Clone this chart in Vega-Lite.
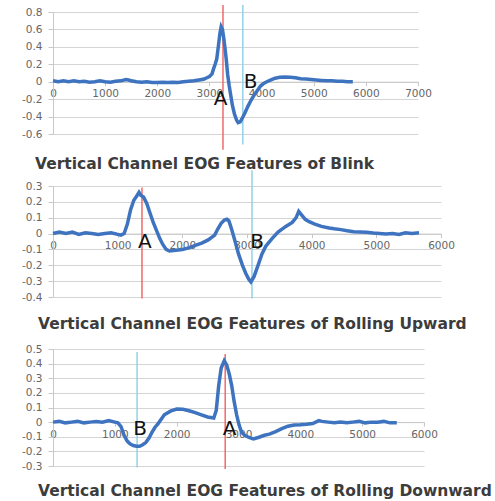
{
  "$schema": "https://vega.github.io/schema/vega-lite/v6.json",
  "background": "white",
  "padding": {"left": 21, "top": 4, "right": 0, "bottom": 0},
  "bounds": "flush",
  "spacing": 52,
  "config": {
    "view": {"stroke": null},
    "axis": {
      "labelFont": "DejaVu Sans", "labelFontSize": 10.5, "labelColor": "#666666",
      "gridColor": "#d4d4d4", "domainColor": "#c8c8c8", "tickColor": "#c8c8c8",
      "title": null, "labelFlush": false, "labelOverlap": false, "tickCount": 30
    },
    "text": {"font": "DejaVu Sans"}
  },
  "datasets": {
    "blink": [
      {"t":0,"v":0.01},{"t":100,"v":0.0},{"t":200,"v":0.01},{"t":300,"v":0.0},{"t":400,"v":0.01},{"t":500,"v":0.0},
      {"t":600,"v":0.005},{"t":700,"v":-0.005},{"t":800,"v":0.0},{"t":900,"v":0.01},{"t":1000,"v":0.0},{"t":1100,"v":-0.005},
      {"t":1200,"v":0.005},{"t":1300,"v":0.01},{"t":1400,"v":0.025},{"t":1450,"v":0.02},{"t":1500,"v":0.01},{"t":1600,"v":0.0},
      {"t":1700,"v":-0.005},{"t":1800,"v":0.0},{"t":1900,"v":-0.01},{"t":2000,"v":-0.01},{"t":2100,"v":-0.005},{"t":2200,"v":-0.01},
      {"t":2300,"v":-0.005},{"t":2400,"v":-0.01},{"t":2500,"v":0.0},{"t":2600,"v":0.005},{"t":2700,"v":0.01},{"t":2800,"v":0.02},
      {"t":2900,"v":0.03},{"t":2950,"v":0.045},{"t":3000,"v":0.06},{"t":3050,"v":0.09},{"t":3080,"v":0.15},{"t":3110,"v":0.2},
      {"t":3140,"v":0.26},{"t":3170,"v":0.4},{"t":3200,"v":0.55},{"t":3225,"v":0.63},{"t":3250,"v":0.6},{"t":3275,"v":0.5},
      {"t":3300,"v":0.38},{"t":3325,"v":0.24},{"t":3350,"v":0.08},{"t":3380,"v":-0.05},{"t":3410,"v":-0.16},{"t":3440,"v":-0.27},
      {"t":3480,"v":-0.37},{"t":3520,"v":-0.44},{"t":3550,"v":-0.47},{"t":3590,"v":-0.46},{"t":3620,"v":-0.43},{"t":3680,"v":-0.36},
      {"t":3740,"v":-0.28},{"t":3800,"v":-0.21},{"t":3860,"v":-0.15},{"t":3920,"v":-0.1},{"t":3980,"v":-0.05},{"t":4040,"v":-0.02},
      {"t":4100,"v":0.0},{"t":4180,"v":0.02},{"t":4260,"v":0.04},{"t":4350,"v":0.05},{"t":4450,"v":0.055},{"t":4550,"v":0.05},
      {"t":4650,"v":0.045},{"t":4750,"v":0.035},{"t":4850,"v":0.03},{"t":4950,"v":0.025},{"t":5050,"v":0.02},{"t":5150,"v":0.015},
      {"t":5250,"v":0.01},{"t":5350,"v":0.01},{"t":5450,"v":0.005},{"t":5550,"v":0.005},{"t":5650,"v":0.0},{"t":5750,"v":0.0}
    ],
    "up": [
      {"t":0,"v":0.0},{"t":100,"v":0.01},{"t":200,"v":0.0},{"t":300,"v":0.01},{"t":400,"v":-0.005},{"t":500,"v":0.005},
      {"t":600,"v":0.0},{"t":700,"v":-0.005},{"t":800,"v":0.0},{"t":900,"v":0.005},{"t":1000,"v":-0.005},{"t":1050,"v":-0.01},
      {"t":1100,"v":0.0},{"t":1150,"v":0.06},{"t":1200,"v":0.15},{"t":1250,"v":0.21},{"t":1300,"v":0.24},{"t":1330,"v":0.26},
      {"t":1360,"v":0.24},{"t":1400,"v":0.23},{"t":1450,"v":0.19},{"t":1500,"v":0.13},{"t":1550,"v":0.07},{"t":1600,"v":0.02},
      {"t":1650,"v":-0.03},{"t":1700,"v":-0.07},{"t":1750,"v":-0.1},{"t":1800,"v":-0.11},{"t":1900,"v":-0.105},{"t":2000,"v":-0.1},
      {"t":2100,"v":-0.09},{"t":2200,"v":-0.075},{"t":2300,"v":-0.06},{"t":2400,"v":-0.04},{"t":2500,"v":-0.01},{"t":2550,"v":0.03},
      {"t":2600,"v":0.065},{"t":2650,"v":0.085},{"t":2690,"v":0.09},{"t":2720,"v":0.08},{"t":2760,"v":0.03},{"t":2810,"v":-0.04},
      {"t":2870,"v":-0.13},{"t":2930,"v":-0.2},{"t":2980,"v":-0.25},{"t":3030,"v":-0.29},{"t":3060,"v":-0.305},{"t":3110,"v":-0.27},
      {"t":3180,"v":-0.19},{"t":3230,"v":-0.13},{"t":3290,"v":-0.08},{"t":3390,"v":-0.03},{"t":3480,"v":0.01},{"t":3600,"v":0.045},
      {"t":3700,"v":0.07},{"t":3760,"v":0.1},{"t":3800,"v":0.14},{"t":3840,"v":0.12},{"t":3900,"v":0.09},{"t":3960,"v":0.075},
      {"t":4050,"v":0.06},{"t":4150,"v":0.045},{"t":4270,"v":0.035},{"t":4350,"v":0.03},{"t":4450,"v":0.025},{"t":4550,"v":0.018},
      {"t":4650,"v":0.012},{"t":4750,"v":0.01},{"t":4850,"v":0.008},{"t":4950,"v":0.003},{"t":5050,"v":0.0},{"t":5150,"v":-0.003},
      {"t":5250,"v":0.0},{"t":5350,"v":-0.005},{"t":5450,"v":0.005},{"t":5550,"v":0.0},{"t":5660,"v":0.005}
    ],
    "down": [
      {"t":0,"v":0.0},{"t":100,"v":0.005},{"t":200,"v":-0.005},{"t":300,"v":0.0},{"t":400,"v":0.005},{"t":500,"v":-0.005},
      {"t":600,"v":0.0},{"t":700,"v":0.005},{"t":800,"v":0.0},{"t":900,"v":0.01},{"t":1000,"v":0.0},{"t":1050,"v":-0.005},
      {"t":1100,"v":-0.03},{"t":1150,"v":-0.09},{"t":1200,"v":-0.13},{"t":1250,"v":-0.15},{"t":1300,"v":-0.16},{"t":1350,"v":-0.165},
      {"t":1400,"v":-0.165},{"t":1450,"v":-0.155},{"t":1500,"v":-0.14},{"t":1550,"v":-0.11},{"t":1600,"v":-0.07},{"t":1650,"v":-0.035},
      {"t":1700,"v":-0.01},{"t":1750,"v":0.02},{"t":1800,"v":0.05},{"t":1900,"v":0.075},{"t":2000,"v":0.089},{"t":2100,"v":0.088},
      {"t":2200,"v":0.078},{"t":2300,"v":0.065},{"t":2400,"v":0.05},{"t":2500,"v":0.035},{"t":2600,"v":0.028},{"t":2640,"v":0.08},
      {"t":2680,"v":0.25},{"t":2720,"v":0.37},{"t":2770,"v":0.42},{"t":2810,"v":0.39},{"t":2850,"v":0.33},{"t":2890,"v":0.25},
      {"t":2930,"v":0.14},{"t":2970,"v":0.05},{"t":3010,"v":-0.02},{"t":3050,"v":-0.07},{"t":3100,"v":-0.09},{"t":3170,"v":-0.105},
      {"t":3240,"v":-0.115},{"t":3320,"v":-0.105},{"t":3420,"v":-0.09},{"t":3500,"v":-0.082},{"t":3600,"v":-0.065},{"t":3700,"v":-0.045},
      {"t":3800,"v":-0.028},{"t":3900,"v":-0.02},{"t":4000,"v":-0.018},{"t":4100,"v":-0.015},{"t":4200,"v":-0.01},{"t":4300,"v":0.01},
      {"t":4350,"v":0.005},{"t":4450,"v":0.0},{"t":4550,"v":-0.005},{"t":4650,"v":0.0},{"t":4750,"v":-0.005},{"t":4850,"v":0.0},
      {"t":4950,"v":0.005},{"t":5050,"v":-0.005},{"t":5150,"v":0.0},{"t":5250,"v":0.0},{"t":5350,"v":0.005},{"t":5450,"v":-0.005},
      {"t":5560,"v":-0.005}
    ],
    "blinkMarks": [
      {"kind":"A","t":3260,"top":0.88,"bottom":-0.78},
      {"kind":"B","t":3640,"top":0.88,"bottom":-0.72}
    ],
    "blinkText": [
      {"label":"A","t":3212,"v":-0.2},
      {"label":"B","t":3788,"v":0.0}
    ],
    "upMarks": [
      {"kind":"A","t":1376,"top":0.29,"bottom":-0.41},
      {"kind":"B","t":3077,"top":0.4,"bottom":-0.41}
    ],
    "upText": [
      {"label":"A","t":1420,"v":-0.05},
      {"label":"B","t":3155,"v":-0.05}
    ],
    "downMarks": [
      {"kind":"A","t":2785,"top":0.465,"bottom":-0.32},
      {"kind":"B","t":1360,"top":0.48,"bottom":-0.31}
    ],
    "downText": [
      {"label":"A","t":2855,"v":-0.05},
      {"label":"B","t":1410,"v":-0.05}
    ]
  },
  "vconcat": [
    {
      "width": 365, "height": 122,
      "title": {"text": "Vertical Channel  EOG Features of Blink", "orient": "bottom", "anchor": "start", "frame": "group", "offset": 7, "dx": -18, "font": "DejaVu Sans", "fontSize": 15.5, "fontWeight": "bold", "color": "#3c3c3c"},
      "layer": [
        {
          "data": {"name": "blinkMarks"},
          "mark": {"type": "rule", "strokeWidth": 1.5},
          "encoding": {
            "x": {"field": "t", "type": "quantitative", "scale": {"domain": [0, 7000], "nice": false},
                  "axis": {"values": [0,1000,2000,3000,4000,5000,6000,7000], "labelExpr": "'' + datum.value", "grid": false, "offset": -52.3, "tickSize": 4, "labelPadding": 3}},
            "y": {"field": "top", "type": "quantitative", "scale": {"domain": [-0.6, 0.8], "nice": false},
                  "axis": {"values": [-0.6,-0.4,-0.2,0,0.2,0.4,0.6,0.8], "labelExpr": "'' + datum.value", "grid": true, "tickSize": 5, "labelPadding": 6}},
            "y2": {"field": "bottom"},
            "color": {"field": "kind", "type": "nominal", "scale": {"domain": ["A","B"], "range": ["#f06a6a", "#93d2e8"]}, "legend": null}
          }
        },
        {
          "data": {"name": "blink"},
          "mark": {"type": "line", "color": "#3e73c0", "strokeWidth": 3.5},
          "encoding": {
            "x": {"field": "t", "type": "quantitative"},
            "y": {"field": "v", "type": "quantitative"}
          }
        },
        {
          "data": {"name": "blinkText"},
          "mark": {"type": "text", "fontSize": 20, "color": "#111111", "align": "center", "baseline": "middle"},
          "encoding": {
            "x": {"field": "t", "type": "quantitative"},
            "y": {"field": "v", "type": "quantitative"},
            "text": {"field": "label"}
          }
        }
      ]
    },
    {
      "width": 388, "height": 111,
      "title": {"text": "Vertical Channel  EOG Features of Rolling Upward", "orient": "bottom", "anchor": "start", "frame": "group", "offset": 14, "dx": -15, "font": "DejaVu Sans", "fontSize": 15.5, "fontWeight": "bold", "color": "#3c3c3c"},
      "layer": [
        {
          "data": {"name": "upMarks"},
          "mark": {"type": "rule", "strokeWidth": 1.5},
          "encoding": {
            "x": {"field": "t", "type": "quantitative", "scale": {"domain": [0, 6000], "nice": false},
                  "axis": {"values": [0,1000,2000,3000,4000,5000,6000], "labelExpr": "'' + datum.value", "grid": false, "offset": -63.4, "tickSize": 4, "labelPadding": 3}},
            "y": {"field": "top", "type": "quantitative", "scale": {"domain": [-0.4, 0.3], "nice": false},
                  "axis": {"values": [-0.4,-0.3,-0.2,-0.1,0,0.1,0.2,0.3], "labelExpr": "'' + datum.value", "grid": true, "tickSize": 5, "labelPadding": 6}},
            "y2": {"field": "bottom"},
            "color": {"field": "kind", "type": "nominal", "scale": {"domain": ["A","B"], "range": ["#f06a6a", "#93d2e8"]}, "legend": null}
          }
        },
        {
          "data": {"name": "up"},
          "mark": {"type": "line", "color": "#3e73c0", "strokeWidth": 3.5},
          "encoding": {
            "x": {"field": "t", "type": "quantitative"},
            "y": {"field": "v", "type": "quantitative"}
          }
        },
        {
          "data": {"name": "upText"},
          "mark": {"type": "text", "fontSize": 20, "color": "#111111", "align": "center", "baseline": "middle"},
          "encoding": {
            "x": {"field": "t", "type": "quantitative"},
            "y": {"field": "v", "type": "quantitative"},
            "text": {"field": "label"}
          }
        }
      ]
    },
    {
      "width": 371, "height": 117,
      "title": {"text": "Vertical Channel  EOG Features of Rolling Downward", "orient": "bottom", "anchor": "start", "frame": "group", "offset": 12, "dx": -15, "font": "DejaVu Sans", "fontSize": 15.5, "fontWeight": "bold", "color": "#3c3c3c"},
      "layer": [
        {
          "data": {"name": "downMarks"},
          "mark": {"type": "rule", "strokeWidth": 1.5},
          "encoding": {
            "x": {"field": "t", "type": "quantitative", "scale": {"domain": [0, 6000], "nice": false},
                  "axis": {"values": [0,1000,2000,3000,4000,5000,6000], "labelExpr": "'' + datum.value", "grid": false, "offset": -43.9, "tickSize": 4, "labelPadding": 3}},
            "y": {"field": "top", "type": "quantitative", "scale": {"domain": [-0.3, 0.5], "nice": false},
                  "axis": {"values": [-0.3,-0.2,-0.1,0,0.1,0.2,0.3,0.4,0.5], "labelExpr": "'' + datum.value", "grid": true, "tickSize": 5, "labelPadding": 6}},
            "y2": {"field": "bottom"},
            "color": {"field": "kind", "type": "nominal", "scale": {"domain": ["A","B"], "range": ["#f06a6a", "#93d2e8"]}, "legend": null}
          }
        },
        {
          "data": {"name": "down"},
          "mark": {"type": "line", "color": "#3e73c0", "strokeWidth": 3.5},
          "encoding": {
            "x": {"field": "t", "type": "quantitative"},
            "y": {"field": "v", "type": "quantitative"}
          }
        },
        {
          "data": {"name": "downText"},
          "mark": {"type": "text", "fontSize": 20, "color": "#111111", "align": "center", "baseline": "middle"},
          "encoding": {
            "x": {"field": "t", "type": "quantitative"},
            "y": {"field": "v", "type": "quantitative"},
            "text": {"field": "label"}
          }
        }
      ]
    }
  ]
}
